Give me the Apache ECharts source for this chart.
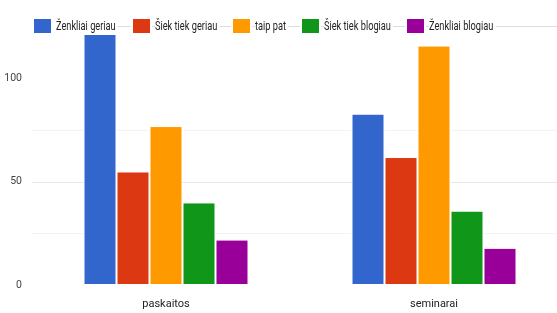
<!DOCTYPE html>
<html><head><meta charset="utf-8">
<script src="https://cdn.jsdelivr.net/npm/echarts@6/dist/echarts.min.js"></script>
<style>html,body{margin:0;padding:0;background:#fff;overflow:hidden}#c{width:580px;height:313px}</style>
</head><body><div id="c"></div>
<script>
const categories = ['paskaitos', 'seminarai'];
const seriesNames = ['Ženkliai geriau', 'Šiek tiek geriau', 'taip pat', 'Šiek tiek blogiau', 'Ženkliai blogiau'];
const zenkliaiGeriau = [122, 83];
const siekTiekGeriau = [55, 62];
const taipPat = [77, 116];
const siekTiekBlogiau = [40, 36];
const zenkliaiBlogiau = [22, 18];
const yTickLabels = [0, 50, 100];

const values = [zenkliaiGeriau, siekTiekGeriau, taipPat, siekTiekBlogiau, zenkliaiBlogiau];
const colors = ['#3366cc', '#dc3912', '#ff9900', '#109618', '#990099'];
const legendLefts = [32, 131, 231, 300, 405];
const FONT = 'Roboto, "Liberation Sans", sans-serif';
const SX = 0.71;

const legendTexts = seriesNames.map((n, i) => ({
  type: 'text', z: 5,
  x: legendLefts[i] + 24, y: 26.5,
  scaleX: SX,
  style: {
    text: n, fill: '#222', font: '13px ' + FONT,
    verticalAlign: 'middle', align: 'left',
    backgroundColor: '#fff', padding: [2, 3, 2, 0]
  }
}));

const chart = echarts.init(document.getElementById('c'), null, {renderer: 'canvas'});
chart.setOption({
  animation: false,
  color: colors,
  textStyle: {fontFamily: FONT},
  graphic: [{
    type: 'line', z: 1,
    shape: {x1: 56, y1: 26.5, x2: 580, y2: 26.5},
    style: {stroke: '#dddddd', lineWidth: 1}
  }].concat(legendTexts),
  legend: seriesNames.map((n, i) => ({
    data: [n],
    left: legendLefts[i], top: 17,
    padding: 0,
    itemWidth: 19, itemHeight: 16,
    backgroundColor: '#fff',
    z: 10,
    icon: 'rect',
    selectedMode: false,
    formatter: () => '',
    textStyle: {fontSize: 1}
  })),
  grid: {left: 32, top: 27, width: 536, height: 258, containLabel: false},
  xAxis: {
    type: 'category', data: categories,
    axisLine: {show: false}, axisTick: {show: false},
    axisLabel: {fontFamily: FONT, fontSize: 11, color: '#222', margin: 14}
  },
  yAxis: {
    type: 'value', min: 0, max: 125, interval: 25,
    axisLine: {show: false}, axisTick: {show: false},
    axisLabel: {
      fontFamily: FONT, fontSize: 10.5, color: '#444', margin: 10,
      formatter: v => yTickLabels.includes(v) ? String(v) : ''
    },
    splitLine: {show: true, lineStyle: {width: 1,
      color: ['rgba(0,0,0,0)', '#f3f3f3', '#e6e6e6', '#f3f3f3', 'rgba(0,0,0,0)', 'rgba(0,0,0,0)']}}
  },
  series: seriesNames.map((n, i) => ({
    name: n, type: 'bar', data: values[i],
    barWidth: 33, barGap: '0%',
    itemStyle: {color: colors[i], borderColor: '#fff', borderWidth: 1}
  }))
});
</script></body></html>
